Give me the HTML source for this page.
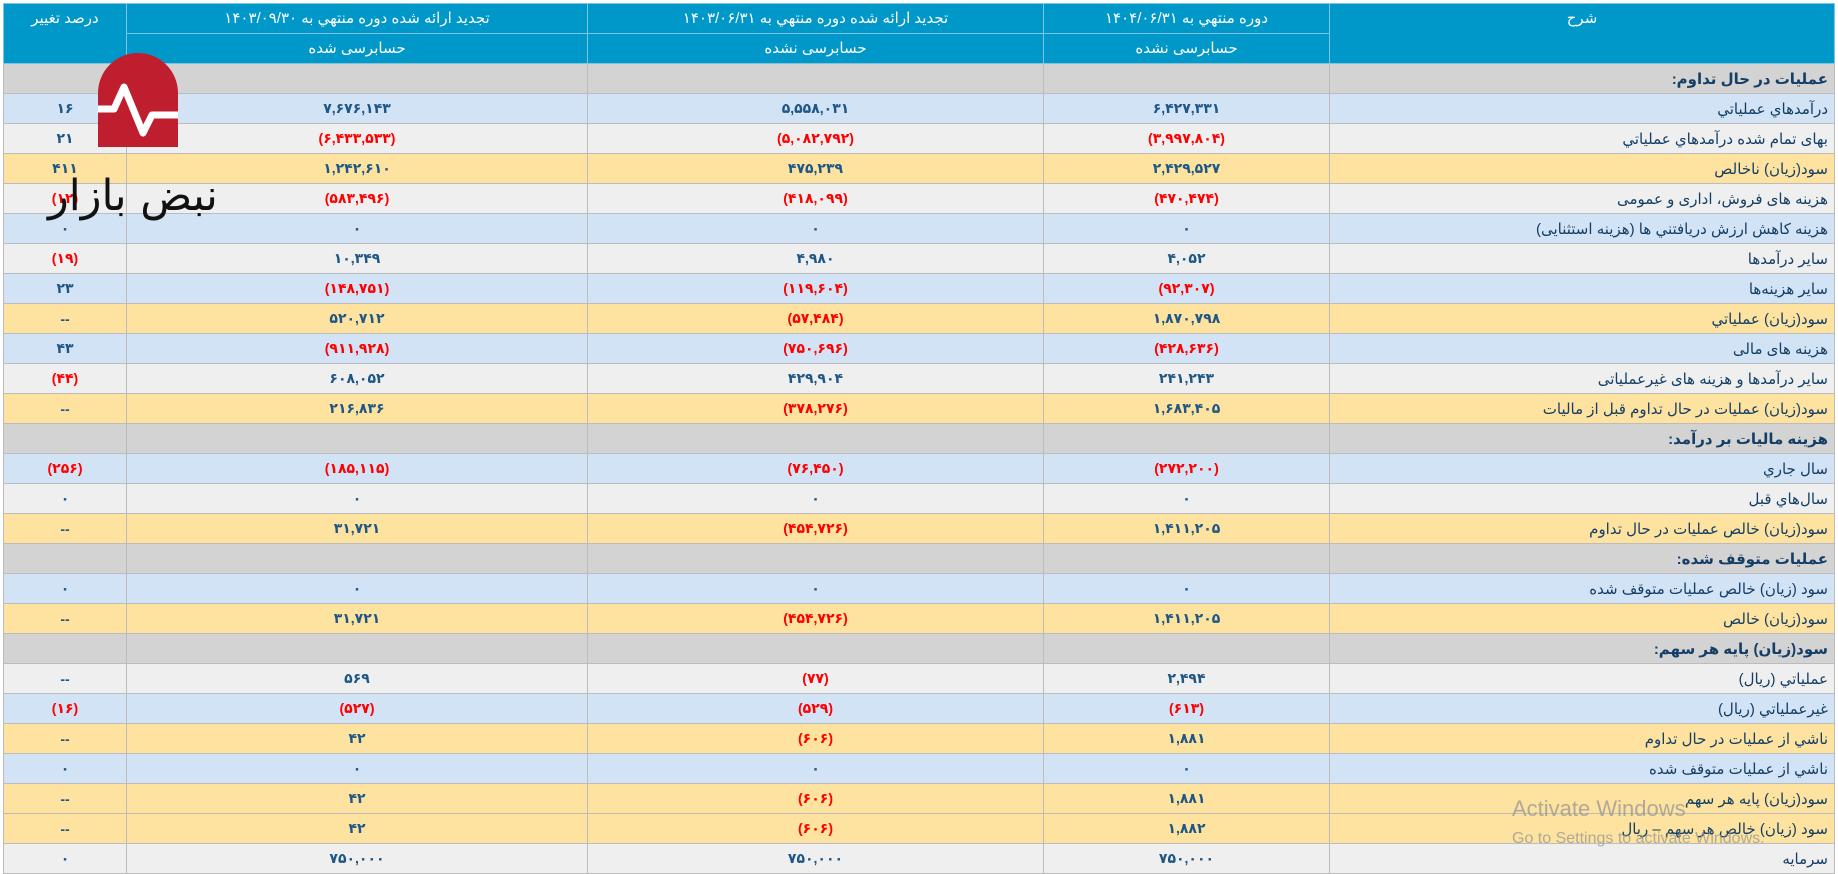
<!DOCTYPE html>
<html><head><meta charset="utf-8">
<style>
html,body{margin:0;padding:0;width:1838px;height:874px;overflow:hidden;background:#fff;}
body{font-family:"Liberation Sans","Noto Sans CJK SC","DejaVu Sans",sans-serif;position:relative;}
table{position:absolute;left:3px;top:3px;border-collapse:collapse;table-layout:fixed;direction:rtl;width:1831px;}
td,th{border:1px solid #bcbcbc;height:29px;padding:0 6px;font-size:14px;overflow:hidden;white-space:nowrap;box-sizing:border-box;}
th{background:#0097c9;color:#fff;font-weight:normal;font-size:15px;border-color:#7fc4e0;vertical-align:top;padding-top:7px;height:30px;line-height:16px;}
td{text-align:center;color:#1e5686;font-weight:bold;height:30px;}
td.d{text-align:right;font-weight:normal;font-size:15px;color:#143e66;}
.g td{background:#d3d3d3;}
.g td.d{font-weight:bold;}
.b td{background:#d1e3f4;}
.l td{background:#efefef;}
.y td{background:#fde39f;}
.r{color:#f00 !important;}
.logo{position:absolute;left:98px;top:53px;width:80px;height:94px;}
.lt{position:absolute;left:48px;top:166px;font-size:43px;color:#111;direction:rtl;font-family:"DejaVu Sans",sans-serif;line-height:60px;}
.wm1{position:absolute;left:1512px;top:796px;font-size:22px;color:rgba(150,150,150,0.75);}
.wm2{position:absolute;left:1512px;top:830px;font-size:16px;color:rgba(150,150,150,0.75);}
</style></head><body>
<table>
<colgroup><col style="width:505px"><col style="width:286px"><col style="width:456px"><col style="width:461px"><col style="width:123px"></colgroup>
<tr><th rowspan="2">شرح</th><th>دوره منتهي به ۱۴۰۴/۰۶/۳۱</th><th>تجدید ارائه شده دوره منتهي به ۱۴۰۳/۰۶/۳۱</th><th>تجدید ارائه شده دوره منتهي به ۱۴۰۳/۰۹/۳۰</th><th rowspan="2">درصد تغییر</th></tr>
<tr><th>حسابرسی نشده</th><th>حسابرسی نشده</th><th>حسابرسی شده</th></tr>
<tr class="g"><td class="d">عملیات در حال تداوم:</td><td></td><td></td><td></td><td></td></tr>
<tr class="b"><td class="d">درآمدهاي عملياتي</td><td>۶,۴۲۷,۳۳۱</td><td>۵,۵۵۸,۰۳۱</td><td>۷,۶۷۶,۱۴۳</td><td>۱۶</td></tr>
<tr class="l"><td class="d">بهای تمام شده درآمدهاي عملياتي</td><td class="r">(۳,۹۹۷,۸۰۴)</td><td class="r">(۵,۰۸۲,۷۹۲)</td><td class="r">(۶,۴۳۳,۵۳۳)</td><td>۲۱</td></tr>
<tr class="y"><td class="d">سود(زيان) ناخالص</td><td>۲,۴۲۹,۵۲۷</td><td>۴۷۵,۲۳۹</td><td>۱,۲۴۲,۶۱۰</td><td>۴۱۱</td></tr>
<tr class="l"><td class="d">هزینه های فروش، اداری و عمومی</td><td class="r">(۴۷۰,۴۷۴)</td><td class="r">(۴۱۸,۰۹۹)</td><td class="r">(۵۸۳,۴۹۶)</td><td class="r">(۱۲)</td></tr>
<tr class="b"><td class="d">هزینه کاهش ارزش دریافتني ها (هزینه استثنایی)</td><td>۰</td><td>۰</td><td>۰</td><td>۰</td></tr>
<tr class="l"><td class="d">سایر درآمدها</td><td>۴,۰۵۲</td><td>۴,۹۸۰</td><td>۱۰,۳۴۹</td><td class="r">(۱۹)</td></tr>
<tr class="b"><td class="d">سایر هزینه‌ها</td><td class="r">(۹۲,۳۰۷)</td><td class="r">(۱۱۹,۶۰۴)</td><td class="r">(۱۴۸,۷۵۱)</td><td>۲۳</td></tr>
<tr class="y"><td class="d">سود(زيان) عملياتي</td><td>۱,۸۷۰,۷۹۸</td><td class="r">(۵۷,۴۸۴)</td><td>۵۲۰,۷۱۲</td><td>--</td></tr>
<tr class="b"><td class="d">هزینه های مالی</td><td class="r">(۴۲۸,۶۳۶)</td><td class="r">(۷۵۰,۶۹۶)</td><td class="r">(۹۱۱,۹۲۸)</td><td>۴۳</td></tr>
<tr class="l"><td class="d">سایر درآمدها و هزینه های غیرعملیاتی</td><td>۲۴۱,۲۴۳</td><td>۴۲۹,۹۰۴</td><td>۶۰۸,۰۵۲</td><td class="r">(۴۴)</td></tr>
<tr class="y"><td class="d">سود(زيان) عمليات در حال تداوم قبل از ماليات</td><td>۱,۶۸۳,۴۰۵</td><td class="r">(۳۷۸,۲۷۶)</td><td>۲۱۶,۸۳۶</td><td>--</td></tr>
<tr class="g"><td class="d">هزینه ماليات بر درآمد:</td><td></td><td></td><td></td><td></td></tr>
<tr class="b"><td class="d">سال جاري</td><td class="r">(۲۷۲,۲۰۰)</td><td class="r">(۷۶,۴۵۰)</td><td class="r">(۱۸۵,۱۱۵)</td><td class="r">(۲۵۶)</td></tr>
<tr class="l"><td class="d">سال‌هاي قبل</td><td>۰</td><td>۰</td><td>۰</td><td>۰</td></tr>
<tr class="y"><td class="d">سود(زيان) خالص عمليات در حال تداوم</td><td>۱,۴۱۱,۲۰۵</td><td class="r">(۴۵۴,۷۲۶)</td><td>۳۱,۷۲۱</td><td>--</td></tr>
<tr class="g"><td class="d">عمليات متوقف شده:</td><td></td><td></td><td></td><td></td></tr>
<tr class="b"><td class="d">سود (زيان) خالص عمليات متوقف شده</td><td>۰</td><td>۰</td><td>۰</td><td>۰</td></tr>
<tr class="y"><td class="d">سود(زيان) خالص</td><td>۱,۴۱۱,۲۰۵</td><td class="r">(۴۵۴,۷۲۶)</td><td>۳۱,۷۲۱</td><td>--</td></tr>
<tr class="g"><td class="d">سود(زيان) پايه هر سهم:</td><td></td><td></td><td></td><td></td></tr>
<tr class="l"><td class="d">عملياتي (ريال)</td><td>۲,۴۹۴</td><td class="r">(۷۷)</td><td>۵۶۹</td><td>--</td></tr>
<tr class="b"><td class="d">غيرعملياتي (ريال)</td><td class="r">(۶۱۳)</td><td class="r">(۵۲۹)</td><td class="r">(۵۲۷)</td><td class="r">(۱۶)</td></tr>
<tr class="y"><td class="d">ناشي از عمليات در حال تداوم</td><td>۱,۸۸۱</td><td class="r">(۶۰۶)</td><td>۴۲</td><td>--</td></tr>
<tr class="b"><td class="d">ناشي از عمليات متوقف شده</td><td>۰</td><td>۰</td><td>۰</td><td>۰</td></tr>
<tr class="y"><td class="d">سود(زيان) پايه هر سهم</td><td>۱,۸۸۱</td><td class="r">(۶۰۶)</td><td>۴۲</td><td>--</td></tr>
<tr class="y"><td class="d">سود (زيان) خالص هر سهم – ريال</td><td>۱,۸۸۲</td><td class="r">(۶۰۶)</td><td>۴۲</td><td>--</td></tr>
<tr class="l"><td class="d">سرمايه</td><td>۷۵۰,۰۰۰</td><td>۷۵۰,۰۰۰</td><td>۷۵۰,۰۰۰</td><td>۰</td></tr>
</table>
<svg class="logo" viewBox="0 0 80 94">
<path d="M0 94 V40 A40 40 0 0 1 80 40 V94 Z" fill="#be1e2d"/>
<polyline points="-2,56 16,56 26,34 45,80 54,62 82,62" fill="none" stroke="#fff" stroke-width="7" stroke-linejoin="round"/>
</svg>
<div class="lt">نبض بازار</div>
<div class="wm1">Activate Windows</div>
<div class="wm2">Go to Settings to activate Windows.</div>
</body></html>
